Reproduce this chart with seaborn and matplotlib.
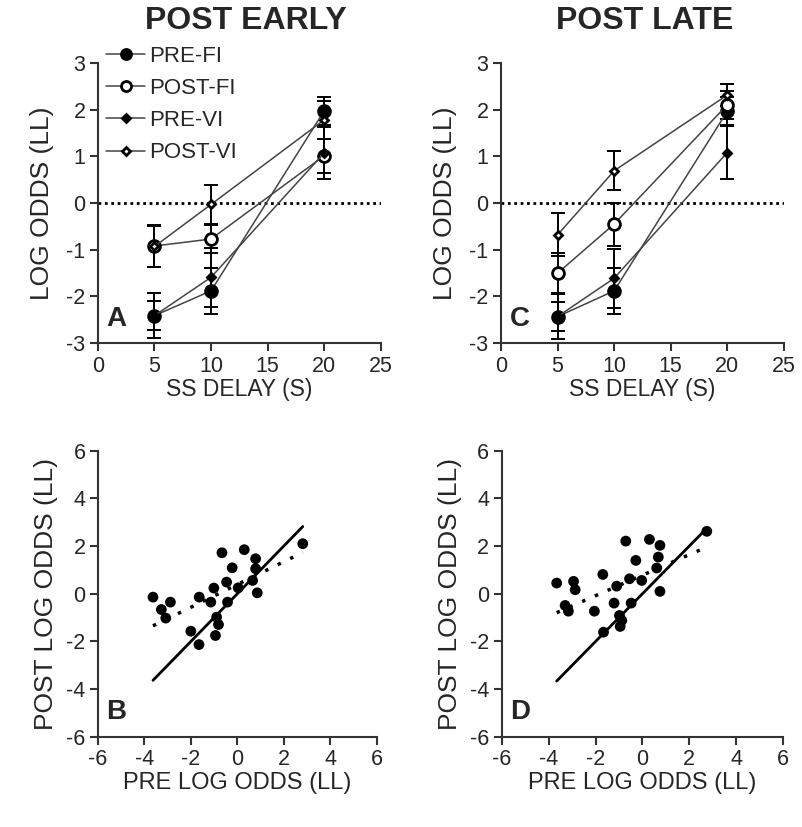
import numpy as np
import pandas as pd
import matplotlib
matplotlib.use('Agg')
import matplotlib.pyplot as plt
import seaborn as sns

# ---- data ----
delay = [5, 10, 20]

# post early (panel A)
early_pre_fi = [-2.41, -1.88, 1.97]
early_pre_fi_err = [0.48, 0.50, 0.30]
early_post_fi = [-0.92, -0.77, 1.01]
early_post_fi_err = [0.44, 0.29, 0.37]
early_pre_vi = [-2.41, -1.59, 1.07]
early_pre_vi_err = [0.31, 0.63, 0.55]
early_post_vi = [-0.93, -0.03, 1.78]
early_post_vi_err = [0.43, 0.41, 0.40]

# post late (panel C)
late_pre_fi = [-2.43, -1.88, 1.96]
late_pre_fi_err = [0.48, 0.50, 0.30]
late_post_fi = [-1.50, -0.45, 2.10]
late_post_fi_err = [0.43, 0.46, 0.30]
late_pre_vi = [-2.43, -1.61, 1.08]
late_pre_vi_err = [0.31, 0.63, 0.57]
late_post_vi = [-0.68, 0.69, 2.31]
late_post_vi_err = [0.46, 0.42, 0.24]

# scatter, panel B
b_pre = [-3.63, -3.27, -2.88, -3.08, -1.64, -1.14, -1.01, -0.66, -0.46, -0.42, -0.22, 0.04,
         0.30, 0.79, 0.79, 0.66, 0.86, 2.82, -2.00, -1.65, -0.89, -0.81, -0.94]
b_post = [-0.14, -0.66, -0.35, -1.02, -0.14, -0.35, 0.24, 1.72, 0.49, -0.35, 1.09, 0.25,
          1.85, 1.47, 1.05, 0.56, 0.04, 2.10, -1.57, -2.13, -0.98, -1.29, -1.75]

# scatter, panel D
d_pre = [-3.66, -2.94, -2.87, -3.30, -3.16, -2.05, -1.69, -1.21, -1.10, -0.71, -0.55, -0.48,
         -0.28, -0.03, 0.30, 0.75, 0.68, 0.61, 0.75, 2.75, -1.66, -0.98, -0.88, -0.95]
d_post = [0.45, 0.52, 0.17, -0.49, -0.73, -0.73, 0.81, -0.39, 0.32, 2.21, 0.63, -0.39,
          1.40, 0.56, 2.28, 2.03, 1.54, 1.08, 0.10, 2.62, -1.61, -0.91, -1.12, -1.37]

sns.set_style('ticks')
plt.rcParams['font.family'] = ['Liberation Sans', 'DejaVu Sans']
plt.rcParams['axes.unicode_minus'] = False

fig = plt.figure(figsize=(8.03, 8.27), dpi=100)
axA = fig.add_axes([0.122, 0.585, 0.352, 0.339])
axC = fig.add_axes([0.624, 0.585, 0.352, 0.339])
axB = fig.add_axes([0.122, 0.109, 0.347, 0.346])
axD = fig.add_axes([0.625, 0.109, 0.350, 0.346])

line_col = '#444444'
series_style = [
    # label, marker, size, face
    ('PRE-FI', 'o', 8.5, 'black'),
    ('POST-FI', 'o', 8.5, 'white'),
    ('PRE-VI', 'D', 4.5, 'black'),
    ('POST-VI', 'D', 4.5, 'white'),
]


def delay_panel(ax, series, errs, letter, legend=False):
    ax.axhline(0, color='black', lw=2, ls=(0, (1, 1.3)), zorder=1)
    for (lab, mk, ms, fc), vals, err in zip(series_style, series, errs):
        ax.errorbar(delay, vals, yerr=err, fmt='none', ecolor='black',
                    elinewidth=1.4, capsize=5, capthick=1.4, zorder=2)
        sns.lineplot(x=delay, y=vals, ax=ax, color=line_col, lw=1.1,
                     marker=mk, markersize=ms, markerfacecolor=fc,
                     markeredgecolor='black', markeredgewidth=2.0,
                     label=lab, zorder=3)
    ax.set_xlim(0, 25)
    ax.set_ylim(-3, 3)
    ax.set_xticks(range(0, 26, 5))
    ax.set_yticks(range(-3, 4))
    ax.set_xlabel('SS DELAY (S)', fontsize=16.5, labelpad=1)
    ax.set_ylabel('LOG ODDS (LL)', fontsize=19, labelpad=9)
    ax.text(0.03, 0.04, letter, transform=ax.transAxes, fontsize=20,
            fontweight='bold', va='bottom', ha='left')
    if legend:
        ax.legend(loc='upper left', bbox_to_anchor=(0.03, 1.06), frameon=False,
                  fontsize=16, handlelength=1.75, handletextpad=0.15,
                  labelspacing=0.5, borderpad=0, borderaxespad=0, markerscale=0.85)
    else:
        lg = ax.get_legend()
        if lg is not None:
            lg.remove()


def scatter_panel(ax, pre, post, letter):
    sns.scatterplot(x=pre, y=post, ax=ax, color='black', s=60, edgecolor='none', zorder=3)
    lo, hi = min(pre), max(pre)
    ax.plot([lo, hi], [lo, hi], color='black', lw=2, zorder=2)
    sns.regplot(x=pre, y=post, ax=ax, scatter=False, ci=None, truncate=True,
                line_kws={'color': 'black', 'lw': 2.5, 'ls': (0, (1, 3))})
    ax.set_xlim(-6, 6)
    ax.set_ylim(-6, 6)
    ax.set_xticks(range(-6, 7, 2))
    ax.set_yticks(range(-6, 7, 2))
    ax.set_xlabel('PRE LOG ODDS (LL)', fontsize=17, labelpad=1)
    ax.set_ylabel('POST LOG ODDS (LL)', fontsize=19, labelpad=6)
    ax.text(0.03, 0.04, letter, transform=ax.transAxes, fontsize=20,
            fontweight='bold', va='bottom', ha='left')


delay_panel(axA, [early_pre_fi, early_post_fi, early_pre_vi, early_post_vi],
            [early_pre_fi_err, early_post_fi_err, early_pre_vi_err, early_post_vi_err],
            'A', legend=True)
delay_panel(axC, [late_pre_fi, late_post_fi, late_pre_vi, late_post_vi],
            [late_pre_fi_err, late_post_fi_err, late_pre_vi_err, late_post_vi_err],
            'C')
scatter_panel(axB, b_pre, b_post, 'B')
scatter_panel(axD, d_pre, d_post, 'D')

for ax in [axA, axB, axC, axD]:
    sns.despine(ax=ax)
    for sp in ['left', 'bottom']:
        ax.spines[sp].set_linewidth(1.5)
        ax.spines[sp].set_color('#333333')
    ax.tick_params(direction='out', length=6, width=1.5, color='#333333',
                   labelsize=15.5, pad=3)

fig.text(0.306, 0.975, 'POST EARLY', ha='center', va='center', fontsize=23,
         fontweight='bold')
fig.text(0.803, 0.975, 'POST LATE', ha='center', va='center', fontsize=23,
         fontweight='bold')

fig.savefig('out.png', dpi=100)
